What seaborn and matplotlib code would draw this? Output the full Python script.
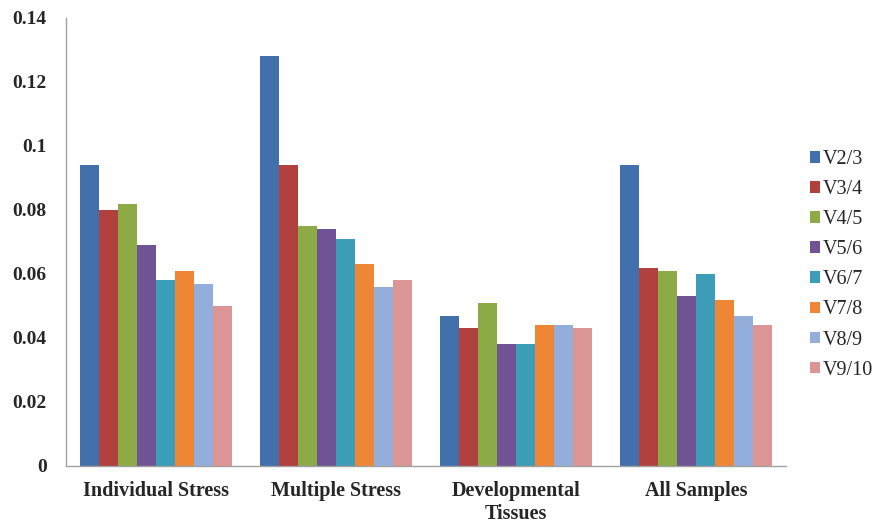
import numpy as np
import pandas as pd
import matplotlib
matplotlib.use("Agg")
import matplotlib.pyplot as plt
import seaborn as sns

# values
categories = ["Individual Stress", "Multiple Stress", "Developmental\nTissues", "All Samples"]
series = ["V2/3", "V3/4", "V4/5", "V5/6", "V6/7", "V7/8", "V8/9", "V9/10"]
v23 = [0.094, 0.128, 0.047, 0.094]
v34 = [0.080, 0.094, 0.043, 0.062]
v45 = [0.082, 0.075, 0.051, 0.061]
v56 = [0.069, 0.074, 0.038, 0.053]
v67 = [0.058, 0.071, 0.038, 0.060]
v78 = [0.061, 0.063, 0.044, 0.052]
v89 = [0.057, 0.056, 0.044, 0.047]
v910 = [0.050, 0.058, 0.043, 0.044]

colors = ["#4170AD", "#B0413E", "#8CAA46", "#6F5395", "#3B9DB6",
          "#EE8636", "#94AEDC", "#DC9595"]

rows = []
for name, vals in zip(series, [v23, v34, v45, v56, v67, v78, v89, v910]):
    for cat, v in zip(categories, vals):
        rows.append({"category": cat, "series": name, "value": v})
df = pd.DataFrame(rows)

sns.set_style("white")
plt.rcParams['font.family'] = ['Liberation Serif', 'DejaVu Serif']

fig = plt.figure(figsize=(8.75, 5.23), dpi=100)
ax = fig.add_axes([66/875, 1 - 466/523, 720/875, 448/523])

sns.barplot(data=df, x="category", y="value", hue="series", palette=colors,
            width=0.843, saturation=1, ax=ax, edgecolor="none", linewidth=0)

ax.set_ylim(0, 0.14)
ax.set_xlim(-0.5, 3.5)
ax.set_yticks(np.arange(0, 0.141, 0.02))
ax.set_yticklabels(["0", "0.02", "0.04", "0.06", "0.08", "0.1", "0.12", "0.14"])
ax.set_xlabel("")
ax.set_ylabel("")

for lab in ax.get_yticklabels():
    lab.set_fontweight("bold")
    lab.set_fontsize(14)
for lab in ax.get_xticklabels():
    lab.set_fontweight("bold")
    lab.set_fontsize(14.5)
    lab.set_linespacing(1.15)

# Excel-style tick marks between categories
ax.set_xticks(np.arange(-0.5, 3.6, 1), minor=True)
ax.tick_params(axis="x", which="major", length=0, pad=11)
ax.tick_params(axis="x", which="minor", length=5, direction="out", color="#A0A0A0", width=1)
ax.tick_params(axis="y", length=5, direction="out", color="#A0A0A0", width=1, pad=9)

for s in ["top", "right"]:
    ax.spines[s].set_visible(False)
for s in ["left", "bottom"]:
    ax.spines[s].set_color("#A0A0A0")
    ax.spines[s].set_linewidth(1)

leg = ax.legend(loc="center left", bbox_to_anchor=(1.033, 0.449), frameon=False,
                fontsize=14.5, handlelength=0.5, handleheight=0.5, handletextpad=0.15,
                labelspacing=0.55, borderpad=0, borderaxespad=0)

plt.savefig("out.png", dpi=100)
